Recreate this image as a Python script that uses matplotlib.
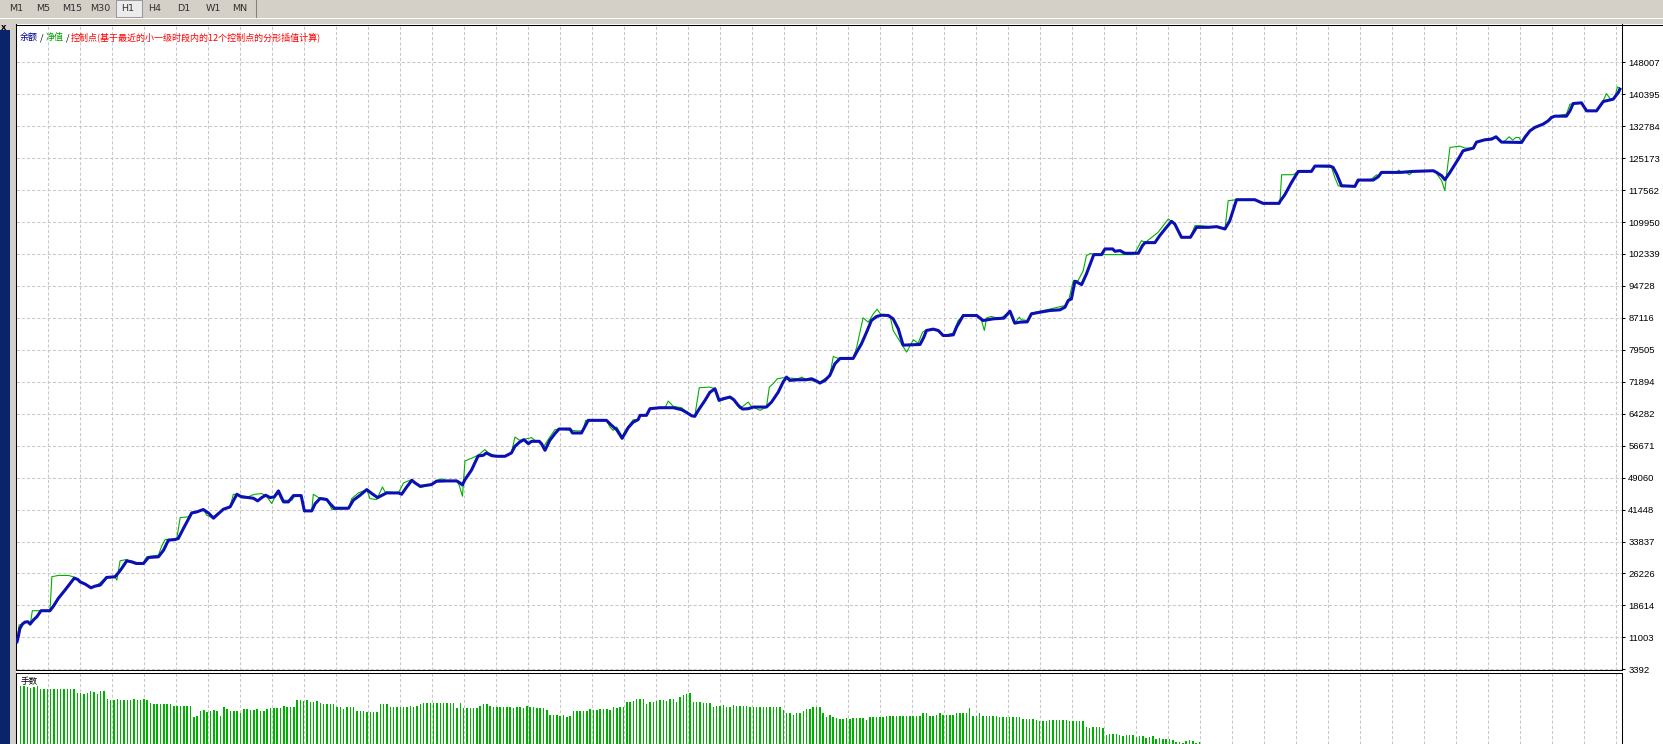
import numpy as np
import matplotlib
matplotlib.use('Agg')
import matplotlib.pyplot as plt
from matplotlib.patches import Rectangle
from matplotlib.lines import Line2D

# Balance curve (trade index, balance)
bal_t = [0, 0.4, 0.9, 1.7, 2.5, 3.4, 4.1, 5.1, 6.2, 7.5, 10.3, 11.4, 12.9, 15.0, 16.6, 17.9, 19.0, 19.7,
         21.3, 23.1, 24.4, 26.0, 28.0, 30.6, 31.7, 32.7, 34.3, 35.9, 37.4, 39.5, 41.1, 44.2, 45.8, 47.3,
         49.4, 50.4, 52.0, 54.6, 56.2, 58.2, 59.8, 61.4, 62.4, 64.5, 66.6, 68.7, 70.2, 72.3, 73.9, 75.2,
         76.5, 77.7, 79.1, 80.4, 81.7, 83.3, 84.8, 86.4, 88.8, 89.8, 92.1, 93.2, 94.7, 96.8, 97.8, 99.2,
         103.6, 105.1, 107.2, 109.3, 110.9, 112.7, 115.5, 119.2, 120.2, 121.8, 123.4, 124.4, 126.0,
         129.5, 131.1, 134.2, 137.4, 138.4, 139.2, 140.0, 142.0, 144.1, 145.7, 146.7, 148.3, 149.9, 152.5,
         154.5, 155.6, 157.1, 158.4, 159.8, 160.8, 163.2, 163.9, 165.0, 166.5, 168.1, 169.4, 172.8, 173.6,
         176.4, 178.5, 184.2, 185.8, 187.4, 189.1, 191.0, 192.6, 194.1, 194.7, 196.7, 197.8, 200.9, 205.1,
         207.7, 209.2, 210.8, 211.8, 212.9, 215.0, 216.5, 218.1, 219.4, 220.7, 222.8, 224.0, 225.4, 226.7,
         228.5, 230.1, 234.2, 235.8, 237.9, 239.4, 240.5, 241.5, 244.1, 246.7, 248.3, 249.9, 250.9, 252.5,
         254.0, 255.6, 257.2, 261.3, 262.4, 263.9, 265.5, 267.0, 268.6, 270.2, 272.3, 273.8, 275.4, 276.9,
         279.5, 282.2, 283.4, 284.2, 286.3, 287.9, 289.4, 291.0, 292.6, 293.6, 295.7, 299.9, 301.9, 305.1,
         308.4, 310.3, 311.8, 313.4, 315.7, 317.0, 319.7, 322.8, 325.9, 327.5, 328.5, 329.5, 330.6, 332.7,
         334.2, 336.5, 338.9, 340.0, 342.4, 343.1, 344.7, 346.2, 350.4, 351.7, 352.5, 355.6, 357.1, 359.2,
         360.8, 361.8, 363.9, 366.7, 368.6, 372.3, 374.9, 377.5, 379.0,
         381.1, 386.8, 389.4, 394.4, 394.7, 396.2, 398.3, 400.4, 404.5, 405.6, 410.3, 411.3, 412.4, 413.9,
         418.1, 419.1, 423.8, 425.4, 426.4, 432.2, 436.3, 442.6, 443.6, 445.2, 446.2, 447.8, 450.4, 451.9,
         455.1, 456.1, 458.7, 460.8, 462.2, 463.9, 470.2, 471.2, 472.8, 474.3, 476.9, 478.5, 479.5, 480.6,
         484.2, 485.3, 486.3, 488.9, 490.5, 493.6, 495.7, 498.8, 500.4, 500.9]
bal_v = [9960, 11150, 13140, 14170, 14640, 14720, 14170, 15120, 15910, 17350, 17350, 18460, 20280, 22260,
         23850, 25110, 24790, 24240, 23690, 22810, 23210, 23450, 25270, 25430, 26380, 27410, 29230, 28990,
         28600, 28600, 30030, 30190, 31770, 34150, 34310, 34550, 36930, 40650, 40890, 41450, 40650, 39390,
         40100, 41530, 42080, 45090, 44460, 44300, 44140, 43510, 44300, 44860, 44300, 44460, 45890, 43270,
         43270, 44780, 44780, 41130, 41130, 42870, 44070, 43830, 42870, 41760, 41760, 43670, 44860, 46200,
         45250, 44300, 45410, 45410, 45090, 46840, 48430, 47790, 47000,
         47397, 48190, 48269, 48269, 47793, 47317, 48586, 50806, 54215, 54373, 54928, 54294, 54135, 54135,
         54928, 56514, 57544, 58099, 57148, 57703, 57703, 57148, 55562, 57941, 59526, 60636, 60636, 59685,
         59685, 62697, 62697, 61508, 60478, 58416, 60953, 62300, 62855, 63887, 63887, 65472, 65710, 65710,
         65234, 64600, 63807, 63647, 65075, 67454, 69356, 70229, 67454, 67851, 68247, 67613, 66265, 65393,
         65472, 65869, 65869, 67058, 69436, 71814, 73004, 72210, 72369, 72369, 72607, 72052, 71578, 72210,
         73400, 76178, 77447, 77447, 78953, 80935, 83710, 86484, 87436, 87753, 87674, 86881, 84503, 80618,
         80697, 80776, 82520, 84106, 84423, 84106, 82917, 82917, 83075, 84899, 87674, 87674, 86484, 86881,
         87040, 88705, 85851, 86088, 86167, 88070, 88466, 88863, 89023, 89656, 91241, 91638, 95840, 95047,
         97584, 102184, 102184, 103530, 103530, 102974, 103133, 102498, 102498, 104323, 105036, 105036, 106701, 108683,
         110110, 109476, 106305, 106305, 108683, 108683, 108842, 108287, 110268,
         115264, 115264, 114392, 114392, 114867, 116453, 119386, 122002, 122002, 123270, 123270, 122954, 121368, 118593,
         118435, 119941, 119941, 120734, 121765, 121765, 122002, 122161, 121765, 120972, 120021, 121765, 124936, 126918,
         127553, 128980, 129535, 129693, 130248, 128980, 128900, 130089, 131675, 132469, 133260, 134053, 134846, 135163,
         135163, 136431, 138176, 138334, 136431, 136431, 138651, 139206, 140792, 141584]

# Equity curve (trade index, equity)
eq_t = [0.0, 0.65, 1.7, 2.5, 3.4, 4.1, 4.8, 10.3, 10.9, 12.9, 16.1, 18.2, 19.7, 21.3, 23.2, 24.4, 26.0, 28.0,
        30.7, 31.2, 32.2, 34.3, 35.9, 36.9, 39.5, 40.5, 44.2, 45.2, 46.3, 49.9, 51.0, 53.6, 54.6, 56.2, 58.3,
        59.3, 60.9, 62.4, 64.5, 66.6, 67.6, 72.3, 73.4, 74.4, 76.5, 78.0, 79.6, 80.6, 81.7, 82.7, 85.9, 86.9,
        88.8, 89.8, 92.1, 92.6, 94.2, 96.8, 98.4, 103.6, 104.6, 106.7, 109.3, 110.3, 112.4, 113.5, 114.2, 115.0,
        119.2, 120.8, 121.5, 123.4, 124.4, 126.0,
        129.5, 131.1, 133.0, 134.2, 137.4, 138.2, 139.2, 140.0, 142.0, 144.1, 146.2, 147.3, 149.9, 152.5, 154.5,
        155.6, 157.1, 160.8, 161.8, 163.2, 164.4, 166.5, 168.1, 169.4, 175.4, 176.9, 177.7, 184.2, 185.3, 186.3,
        187.4, 189.1, 191.0, 192.6, 194.1, 194.7, 196.7, 197.8, 202.5, 203.5, 205.1, 207.7, 209.2, 210.8, 211.8,
        213.2, 216.5, 218.1, 219.1, 220.2, 223.3, 224.9, 225.9, 228.5, 229.5, 232.2, 234.2, 235.1, 236.3, 237.6,
        239.4, 240.5, 244.1, 245.2, 246.7, 250.9, 254.0,
        255.1, 257.2, 261.3, 262.4, 264.4, 266.0, 267.6, 268.8, 270.2, 272.8, 273.8, 276.4, 278.0, 280.1, 281.6,
        283.0, 284.2, 286.3, 287.9, 289.4, 292.6, 294.1, 295.7, 299.9, 301.4, 302.3, 303.0, 304.5, 307.2, 309.2,
        310.3, 311.8, 313.2, 313.9, 316.0, 317.0, 321.7, 327.5, 328.5, 330.1, 331.6, 333.2, 334.2, 335.5, 336.5,
        348.8, 349.3, 351.4, 352.5, 356.6, 359.8, 360.8, 361.8, 363.9, 366.7, 368.1, 369.7, 374.9, 377.5, 378.5,
        381.1, 386.8, 389.4, 394.4, 394.7, 395.2, 398.8, 399.9, 404.5, 405.6, 410.8, 411.8, 412.9, 413.9, 418.1,
        419.7, 421.7, 423.3, 424.9, 425.4, 426.4, 431.1, 431.8, 432.7, 434.2, 435.1, 436.3, 443.1, 444.1, 445.2,
        446.2, 446.9, 447.8, 450.9, 452.5, 455.1, 456.1, 458.7, 462.4, 463.9, 465.0, 466.3, 467.4, 468.4, 469.4,
        470.2, 471.2, 474.3, 478.5, 480.6, 484.2, 485.3, 488.9, 490.5, 493.6, 495.2, 496.7, 498.2, 499.3, 500.1, 500.9]
eq_v = [9976, 13940, 14176, 14652, 14732, 13940, 17349, 17349, 25435, 25753, 25753, 25277, 24009, 23691, 22819,
        23216, 24009, 25435, 25277, 24642, 29241, 29558, 28765, 28448, 28606, 30192, 30589, 32729, 34315, 34394,
        39547, 39706, 40657, 40895, 41450, 40102, 39547, 40340, 41529, 42084, 45097, 44462, 44859, 45097, 45255,
        44621, 42877, 44462, 45255, 43670, 43670, 44779, 44779, 41133, 41133, 45097, 44304, 44066, 41450, 41688,
        44066, 45414, 46207, 44066, 43828, 45652, 46841, 45652, 45414, 47792, 48030, 48585, 47792, 46682,
        47397, 48428, 48745, 48269, 48269, 47238, 44622, 53025, 53659, 54373, 55721, 54928, 54135, 54135, 54928,
        58733, 57941, 58575, 57941, 57703, 56197, 58733, 60478, 60636, 60160, 60319, 62697, 62697, 61112, 60319,
        61112, 58892, 61270, 62855, 62855, 63887, 63887, 65472, 65710, 67296, 66027, 65710, 64679, 63887, 63647,
        70467, 70626, 70229, 67851, 67454, 68247, 66503, 65472, 67058, 66027, 65075, 65869, 70626, 71418, 72607,
        72845, 72845, 72607, 73004, 72369, 71814, 73400,
        77922, 77288, 77447, 80142, 87119, 86088, 88070, 89182, 87674, 87674, 84106, 80935, 78953, 81887, 81094,
        83710, 84265, 84423, 84106, 82917, 83472, 86484, 87674, 87674, 86484, 84106, 87119, 87436, 86881, 88070,
        88705, 85851, 87278, 86643, 86484, 88229, 89023, 90052, 90845, 95998, 95998, 98376, 101944, 102498, 102184,
        102184, 102498, 105512, 105036, 107493, 110665, 110110, 109476, 106305, 106305, 109080, 109080, 108683, 108287, 115025,
        115264, 115264, 114392, 114392, 115025, 121210, 121210, 121765, 122002, 123270, 122954, 120575, 118593, 118355, 118435,
        119941, 119941, 120179, 121210, 120734, 121765, 121765, 122320, 121686, 121765, 121210, 122002, 122161, 120972, 119783,
        117404, 122161, 127711, 128028, 127553, 127553, 128980, 129535, 130248, 128980, 129297, 130248, 129455, 130089, 130089,
        128900, 130486, 132469, 134053, 135163, 135639, 138017, 138334, 136431, 136431, 138017, 140554, 138968, 139444, 142139, 141822]

# Lot size per trade (lower panel, only the visible part)
lots = [5.8, 5.8, 5.73, 5.6, 5.73, 5.8] + [5.47] * 11 + \
       [5.13, 5.07, 5.0, 5.13, 5.33, 5.2, 5.0, 5.27, 5.33] + \
       [4.47, 4.4, 4.4, 4.53, 4.4, 4.4, 4.4, 4.4, 4.47, 4.4, 4.4, 4.47, 4.4] + \
       [4.07, 4.0, 4.0, 4.0, 4.0, 4.0, 4.0] + [3.8] * 6 + \
       [2.73, 2.8, 3.27, 3.4, 3.2, 3.27, 3.4, 3.27, 2.8, 3.67, 3.47, 3.33, 3.27, 3.27, 3.07, 3.47,
        3.47, 3.4, 3.4, 3.47, 3.33, 3.27, 3.47, 3.6, 3.6, 3.6, 3.6, 3.8, 3.67, 3.67, 3.67] + \
       [4.4, 4.4, 4.27, 4.4, 4.2, 4.2, 4.27, 4.13, 4.0, 4.0, 4.0, 4.0] + \
       [3.67, 3.67, 3.47, 3.67, 3.67, 3.67] + [3.27, 3.27, 3.27, 3.2, 3.2, 3.2, 3.2] + [4.0] * 3 + \
       [3.67] * 6 + [3.8, 3.67, 3.8, 4.0, 4.13, 4.13, 4.13, 4.07, 4.07, 4.07, 4.07, 4.07, 4.07, 4.07] + \
       [3.6, 4.07, 3.6, 3.6, 3.6, 3.6, 3.6] + [3.8, 4.0, 4.0, 3.8, 3.67, 3.67] + \
       [3.67, 3.67, 3.67, 3.67, 3.6, 3.67, 3.67, 3.6, 3.8, 3.67, 3.67, 3.6, 3.6, 3.6, 3.4, 2.93, 2.93,
        2.87, 2.8, 2.87, 2.73, 2.8, 3.27, 3.27, 3.27, 3.27, 3.33, 3.47, 3.4, 3.4, 3.47, 3.47, 3.53, 3.4,
        3.67, 3.6, 3.67, 3.67, 4.2, 4.2, 4.27, 4.47, 4.47, 4.47, 4.0, 4.2, 4.2, 4.33, 4.4, 4.4, 4.33,
        4.47, 4.47, 4.2, 4.67, 4.93, 5.0, 5.07, 4.2, 4.2, 4.2, 4.07, 4.07, 4.07, 3.67, 3.8, 3.8, 3.93,
        3.67, 3.73, 3.93, 3.8, 3.8, 3.8, 3.8, 3.73, 3.67] + [3.67] * 8 + \
       [3.4, 3.13, 3.13, 2.93, 3.07, 3.07, 3.33, 3.53, 3.47, 3.67, 3.67, 3.67, 3.13, 2.73, 2.87, 2.67,
        2.6, 2.53, 2.47, 2.6, 2.53, 2.6, 2.6, 2.6, 2.6, 2.4] + [2.67] * 5 + [2.8] * 11 + \
       [3.07, 3.07, 2.8, 2.8, 2.87, 3.07] + [2.87] * 4 + [3.07] * 4 + [3.6, 2.8, 2.8, 3.07] + \
       [2.8] * 5 + [2.67] * 7 + [2.53] * 3 + [2.47, 2.4] + [2.33] * 3 + [2.4] * 6 + \
       [2.27, 2.33, 2.27, 2.27, 2.27, 1.67, 1.6, 1.67, 1.67] + \
       [1.73, 1.6, 0.87, 1.0, 1.0, 1.0, 0.87, 0.8, 0.87, 0.93, 0.87, 0.73, 0.8, 0.8, 0.6, 0.67, 0.8,
        0.53, 0.6, 0.53, 0.53, 0.53, 0.4, 0.2, 0.2, 0.13, 0.33, 0.4, 0.33, 0.13, 0.2]

y_labels = ['3392', '11003', '18614', '26226', '33837', '41448', '49060', '56671', '64282', '71894',
            '79505', '87116', '94728', '102339', '109950', '117562', '125173', '132784', '140395', '148007']
tabs = ['M1', 'M5', 'M15', 'M30', 'H1', 'H4', 'D1', 'W1', 'MN']

W, H = 1663, 744
GRAY = '#D4D0C8'
GRID = '#C8C8C8'
CJK = ['Noto Sans CJK SC', 'DejaVu Sans']


def fx(px):
    return px / W


def fy(py):
    return 1 - py / H


fig = plt.figure(figsize=(W / 100, H / 100), dpi=100, facecolor=GRAY)

# window background
fig.add_artist(Rectangle((fx(16), 0), 1 - fx(16), fy(24), transform=fig.transFigure,
                         facecolor='white', edgecolor='none', zorder=-5))
fig.add_artist(Rectangle((0, 0), fx(10), fy(30), transform=fig.transFigure,
                         facecolor='#0A246A', edgecolor='none', zorder=-4))
fig.add_artist(Line2D([fx(16), 1], [fy(24.5), fy(24.5)], transform=fig.transFigure, color='black', lw=0.75))
fig.text(fx(4), fy(27), 'x', fontsize=6, fontweight='bold', ha='center', va='center')

# tab bar
fig.add_artist(Line2D([0, 1], [fy(17.5), fy(17.5)], transform=fig.transFigure, color='white', lw=0.75))
fig.add_artist(Rectangle((fx(116), fy(17)), fx(26), fy(0) - fy(17), transform=fig.transFigure,
                         facecolor='#ECECEC', edgecolor='#9A9A9A', lw=0.75))
fig.add_artist(Line2D([fx(255.5), fx(255.5)], [fy(0), fy(17)], transform=fig.transFigure, color='#808080', lw=0.75))
tab_x = [16, 43, 72, 100, 128, 155, 184, 213, 240]
for name, xp in zip(tabs, tab_x):
    fig.text(fx(xp), fy(8.5), name, fontsize=6.8, color='#303030', ha='center', va='center')

# main panel
x0, x1 = 16, 1622
px_per_val = 31.95 / 7611.3
ax = fig.add_axes([fx(x0), fy(670), fx(x1) - fx(x0), fy(24) - fy(670)])
ax.set_facecolor('white')
ax.set_xlim((x0 - 17) / 3.2, (x1 - 17) / 3.2)
ax.set_ylim(3392 - 0.7 / px_per_val, 3392 + (669.3 - 24) / px_per_val)
yt = [float(v) for v in y_labels]
ax.set_yticks(yt)
ax.set_yticklabels(y_labels, fontsize=6.8, family='Liberation Sans')
ax.yaxis.tick_right()
ax.tick_params(axis='y', length=2, width=0.75, pad=2.5, colors='black')
ax.set_xticks([(48 + 32 * k - 17) / 3.2 for k in range(50)])
ax.tick_params(axis='x', length=0, labelbottom=False)
ax.grid(True, color=GRID, linestyle=(0, (3, 2)), linewidth=0.75)
for s in ax.spines.values():
    s.set_linewidth(0.75)
ax.spines['top'].set_visible(False)

ax.plot(eq_t, eq_v, color='#00B000', lw=0.8, zorder=3)
ax.plot(bal_t, bal_v, color='#0C10B4', lw=2.2, zorder=4, solid_joinstyle='round')

# legend text
r = fig.canvas.get_renderer()
parts = [('余额', '#00008C'), (' / ', 'black'), ('净值', '#00A000'), (' / ', 'black'),
         ('控制点(基于最近的小一级时段内的12个控制点的分形插值计算)', '#FF0000')]
xp = 20
for s, c in parts:
    t = fig.text(fx(xp), fy(37.5), s, color=c, fontsize=6.5, family=CJK, ha='left', va='center')
    xp += t.get_window_extent(renderer=r).width

# lots panel
ax2 = fig.add_axes([fx(x0), 0, fx(x1) - fx(x0), fy(672.5)])
ax2.set_facecolor('white')
ax2.set_xlim((x0 - 17.37) / 3.33, (x1 - 17.37) / 3.33)
ax2.set_ylim(0, 7.15)
ax2.bar(np.arange(1, len(lots) + 1), lots, width=0.45, color='#00B000', zorder=3)
ax2.set_xticks([(48 + 32 * k - 17.37) / 3.33 for k in range(50)])
ax2.set_yticks([])
ax2.tick_params(axis='x', length=0, labelbottom=False)
ax2.grid(True, axis='x', color=GRID, linestyle=(0, (3, 2)), linewidth=0.75)
for s in ax2.spines.values():
    s.set_linewidth(0.75)
ax2.spines['bottom'].set_visible(False)
ax2.text(0.003, 0.88, '手数', transform=ax2.transAxes, fontsize=6.2, family=CJK, ha='left', va='center')

fig.savefig('out.png', dpi=100, facecolor=GRAY)
